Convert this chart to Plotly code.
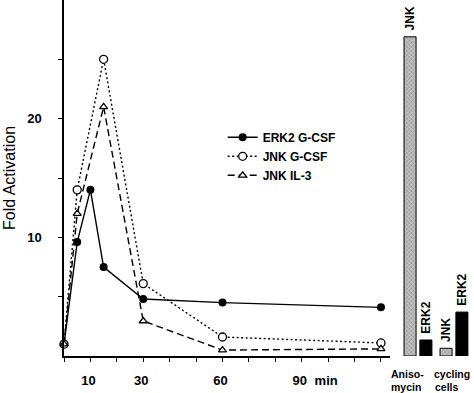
import plotly.graph_objects as go

# ---- data ----
time_erk2 = [0, 5, 10, 15, 30, 60, 120]
erk2_gcsf = [1.0, 9.6, 14.0, 7.5, 4.8, 4.5, 4.1]

time_jnk = [0, 5, 15, 30, 60, 120]
jnk_gcsf = [1.0, 14.0, 25.0, 6.1, 1.6, 1.1]
jnk_il3 = [1.0, 12.0, 21.0, 2.95, 0.5, 0.6]

bar_groups = ["Anisomycin", "cycling cells"]
jnk_bar = [26.9, 0.65]
erk2_bar = [1.35, 3.7]

x_tickvals = [0, 10, 20, 30, 40, 50, 60, 70, 80, 90, 100, 110, 120]
x_ticktext = ["", "10", "", "30", "", "", "60", "", "", "90", "min", "", ""]
y_tickvals = [5, 10, 15, 20, 25]
y_ticktext = ["", "10", "", "20", ""]

FONT = "Liberation Sans, Arial, Helvetica, sans-serif"
NB = "\u00a0"

fig = go.Figure()

fig.add_trace(go.Scatter(
    x=time_erk2, y=erk2_gcsf, mode="lines+markers", name="ERK2 G-CSF",
    line=dict(color="black", width=1.4),
    marker=dict(symbol="circle", size=8, color="black"),
    cliponaxis=False,
))
fig.add_trace(go.Scatter(
    x=time_jnk, y=jnk_gcsf, mode="lines+markers", name="JNK G-CSF",
    line=dict(color="black", width=1.4, dash="2px,2.5px"),
    marker=dict(symbol="circle", size=8, color="white",
                line=dict(color="black", width=1.3)),
    cliponaxis=False,
))
fig.add_trace(go.Scatter(
    x=time_jnk, y=jnk_il3, mode="lines+markers", name="JNK IL-3",
    line=dict(color="black", width=1.4, dash="7px,4px"),
    marker=dict(symbol="triangle-up", size=7, color="white",
                line=dict(color="black", width=1.3)),
    cliponaxis=False,
))

bar_font = dict(family=FONT, size=12, color="black", weight="bold")
fig.add_trace(go.Bar(
    x=bar_groups, y=jnk_bar, xaxis="x2", yaxis="y", name="JNK",
    showlegend=False,
    marker=dict(color="#b4b4b4", line=dict(color="black", width=1),
                pattern=dict(shape="x", size=3, solidity=0.35,
                             fgcolor="#6e6e6e", bgcolor="#bebebe")),
    text=[NB + "JNK", NB + "JNK"], textposition="outside", textangle=-90,
    constraintext="none", outsidetextfont=bar_font, cliponaxis=False,
))
fig.add_trace(go.Bar(
    x=bar_groups, y=erk2_bar, xaxis="x2", yaxis="y", name="ERK2",
    showlegend=False,
    marker=dict(color="black", line=dict(color="black", width=1)),
    text=[NB + "ERK2", NB + "ERK2"], textposition="outside", textangle=-90,
    constraintext="none", outsidetextfont=bar_font, cliponaxis=False,
))

tick_font = dict(family=FONT, size=13, color="black", weight="bold")
lab_font = dict(family=FONT, size=12, color="black", weight="bold")
grp_font = dict(family=FONT, size=10.5, color="black", weight="bold")

fig.update_layout(
    width=474, height=393,
    margin=dict(l=64, r=0, t=0, b=37),
    paper_bgcolor="white", plot_bgcolor="white",
    barmode="group", bargap=0.12, bargroupgap=0.24,
    font=dict(family=FONT, color="black"),
    xaxis=dict(
        domain=[0, 0.795], range=[0, 123.4],
        showgrid=False, zeroline=False,
        showline=True, linecolor="black", linewidth=1.5,
        ticks="outside", ticklen=4, tickwidth=1.2, tickcolor="black",
        tickmode="array", tickvals=x_tickvals, ticktext=x_ticktext,
        tickfont=tick_font, ticklabelstandoff=8, ticklabelshift=-2,
        anchor="y",
    ),
    xaxis2=dict(
        domain=[0.795, 1], range=[-0.778, 1.556],
        showgrid=False, zeroline=False, showline=False,
        showticklabels=False, ticks="", anchor="y",
        type="category",
    ),
    yaxis=dict(
        domain=[0, 1], range=[0, 30],
        showgrid=False, zeroline=False,
        showline=True, linecolor="black", linewidth=1.5,
        ticks="outside", ticklen=4, tickwidth=1.2, tickcolor="black",
        tickmode="array", tickvals=y_tickvals, ticktext=y_ticktext,
        tickfont=tick_font, ticklabelstandoff=14,
    ),
    legend=dict(
        x=0.387, y=0.655, xanchor="left", yanchor="top",
        bgcolor="rgba(0,0,0,0)", borderwidth=0,
        font=lab_font, tracegroupgap=0,
    ),
    annotations=[
        dict(text="Fold Activation", xref="paper", yref="paper",
             x=0, y=0.5, xshift=-55, xanchor="center", yanchor="middle",
             textangle=-90, showarrow=False,
             font=dict(family=FONT, size=16, color="black")),
        dict(text="Aniso-", xref="x2", yref="paper", x=bar_groups[0], y=0,
             xanchor="left", yanchor="middle", xshift=-29, yshift=-18,
             showarrow=False, font=grp_font),
        dict(text="mycin", xref="x2", yref="paper", x=bar_groups[0], y=0,
             xanchor="left", yanchor="middle", xshift=-29, yshift=-31,
             showarrow=False, font=grp_font),
        dict(text="cycling", xref="x2", yref="paper", x=bar_groups[1], y=0,
             xanchor="left", yanchor="middle", xshift=-22, yshift=-18,
             showarrow=False, font=grp_font),
        dict(text="cells", xref="x2", yref="paper", x=bar_groups[1], y=0,
             xanchor="left", yanchor="middle", xshift=-21, yshift=-31,
             showarrow=False, font=grp_font),
    ],
)

fig.write_html("out.html", config={"displayModeBar": False},
               post_script="document.body.style.margin='0';")
